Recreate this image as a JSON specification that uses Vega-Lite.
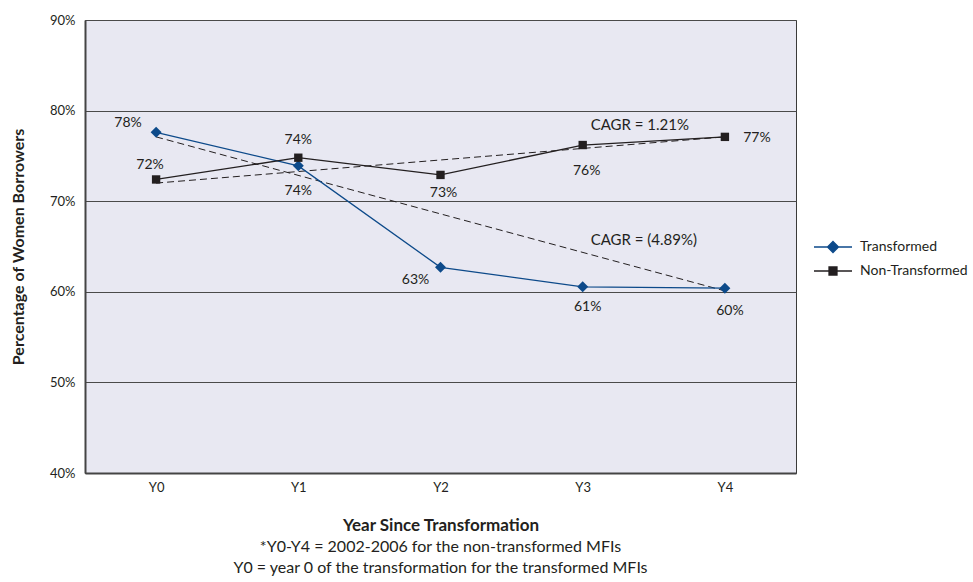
{
  "$schema": "https://vega.github.io/schema/vega-lite/v6.json",
  "autosize": "none",
  "width": 711,
  "height": 453,
  "padding": {"left": 85, "top": 20, "right": 177, "bottom": 109},
  "background": "#ffffff",
  "config": {
    "font": "Lato",
    "view": {"fill": "#e8e8f2", "stroke": "#3a3a3a", "strokeWidth": 1},
    "axis": {"labelFont": "Lato", "titleFont": "Lato", "labelColor": "#231f20", "titleColor": "#231f20"}
  },
  "datasets": {
    "series": [
      {"year": "Y0", "series": "Transformed", "value": 0.776, "label": "78%"},
      {"year": "Y1", "series": "Transformed", "value": 0.739, "label": "74%"},
      {"year": "Y2", "series": "Transformed", "value": 0.627, "label": "63%"},
      {"year": "Y3", "series": "Transformed", "value": 0.6055, "label": "61%"},
      {"year": "Y4", "series": "Transformed", "value": 0.604, "label": "60%"},
      {"year": "Y0", "series": "Non-Transformed", "value": 0.724, "label": "72%"},
      {"year": "Y1", "series": "Non-Transformed", "value": 0.748, "label": "74%"},
      {"year": "Y2", "series": "Non-Transformed", "value": 0.729, "label": "73%"},
      {"year": "Y3", "series": "Non-Transformed", "value": 0.762, "label": "76%"},
      {"year": "Y4", "series": "Non-Transformed", "value": 0.771, "label": "77%"}
    ],
    "trend": [
      {"year": "Y0", "series": "Transformed", "value": 0.771},
      {"year": "Y4", "series": "Transformed", "value": 0.601},
      {"year": "Y0", "series": "Non-Transformed", "value": 0.720},
      {"year": "Y4", "series": "Non-Transformed", "value": 0.771}
    ],
    "notes": [
      {"year": "Y3", "value": 0.784, "text": "CAGR = 1.21%"},
      {"year": "Y3", "value": 0.657, "text": "CAGR = (4.89%)"}
    ]
  },
  "encoding": {
    "x": {
      "field": "year", "type": "ordinal",
      "scale": {"type": "point", "padding": 0.5, "domain": ["Y0", "Y1", "Y2", "Y3", "Y4"]},
      "axis": {
        "title": "Year Since Transformation", "titleFontSize": 17, "titleFontWeight": "bold", "titlePadding": 23,
        "labelAngle": 0, "labelFontSize": 13, "labelPadding": 8, "ticks": false,
        "domainColor": "#444444", "domainWidth": 2, "grid": false
      }
    },
    "y": {
      "field": "value", "type": "quantitative",
      "scale": {"domain": [0.4, 0.9], "nice": false, "zero": false},
      "axis": {
        "title": "Percentage of Women Borrowers", "titleFontSize": 16, "titleFontWeight": "bold", "titlePadding": 23,
        "format": ".0%", "values": [0.4, 0.5, 0.6, 0.7, 0.8, 0.9], "labelFontSize": 13, "labelPadding": 10, "ticks": false,
        "domainColor": "#444444", "domainWidth": 2,
        "grid": true, "gridColor": "#4a4a4a", "gridOpacity": 1, "gridWidth": 1
      }
    }
  },
  "layer": [
    {
      "data": {"name": "trend"},
      "mark": {"type": "line", "strokeDash": [7, 4], "strokeWidth": 1, "color": "#231f20"},
      "encoding": {"detail": {"field": "series"}}
    },
    {
      "data": {"name": "series"},
      "mark": {"type": "line", "strokeWidth": 1.3},
      "encoding": {
        "color": {
          "field": "series", "type": "nominal",
          "scale": {"domain": ["Transformed", "Non-Transformed"], "range": ["#0d4a8a", "#231f20"]},
          "legend": {
            "title": null, "orient": "none", "legendX": 728, "legendY": 216, "padding": 0,
            "symbolSize": 1444, "symbolStrokeWidth": 1.3, "clipHeight": 22, "rowPadding": 2,
            "labelFontSize": 14, "labelOffset": 7, "labelColor": "#231f20", "labelFont": "Lato", "labelLimit": 0,
            "encode": {
              "symbols": {
                "update": {
                  "shape": {"signal": "datum.value == 'Transformed' ? 'M-1,0H1M0,-0.29L0.29,0L0,0.29L-0.29,0Z' : 'M-1,0H1M-0.21,-0.21H0.21V0.21H-0.21Z'"},
                  "fill": {"signal": "datum.value == 'Transformed' ? '#0d4a8a' : '#231f20'"},
                  "stroke": {"signal": "datum.value == 'Transformed' ? '#0d4a8a' : '#231f20'"},
                  "fillOpacity": {"value": 1},
                  "strokeOpacity": {"value": 1}
                }
              }
            }
          }
        }
      }
    },
    {
      "data": {"name": "series"},
      "mark": {"type": "point", "filled": true, "opacity": 1},
      "encoding": {
        "color": {"field": "series", "type": "nominal", "legend": null},
        "shape": {"condition": {"test": "datum.series == 'Transformed'", "value": "diamond"}, "value": "square"},
        "size": {"condition": {"test": "datum.series == 'Transformed'", "value": 121}, "value": 70}
      }
    },
    {"data": {"name": "series"}, "transform": [{"filter": "datum.series == 'Transformed' && datum.year == 'Y0'"}],
     "mark": {"type": "text", "dx": -28, "dy": -9, "fontSize": 14, "color": "#231f20"}, "encoding": {"text": {"field": "label"}}},
    {"data": {"name": "series"}, "transform": [{"filter": "datum.series == 'Non-Transformed' && datum.year == 'Y0'"}],
     "mark": {"type": "text", "dx": -6, "dy": -14, "fontSize": 14, "color": "#231f20"}, "encoding": {"text": {"field": "label"}}},
    {"data": {"name": "series"}, "transform": [{"filter": "datum.series == 'Non-Transformed' && datum.year == 'Y1'"}],
     "mark": {"type": "text", "dx": 0, "dy": -18, "fontSize": 14, "color": "#231f20"}, "encoding": {"text": {"field": "label"}}},
    {"data": {"name": "series"}, "transform": [{"filter": "datum.series == 'Transformed' && datum.year == 'Y1'"}],
     "mark": {"type": "text", "dx": 0, "dy": 25, "fontSize": 14, "color": "#231f20"}, "encoding": {"text": {"field": "label"}}},
    {"data": {"name": "series"}, "transform": [{"filter": "datum.series == 'Non-Transformed' && datum.year == 'Y2'"}],
     "mark": {"type": "text", "dx": 3, "dy": 18, "fontSize": 14, "color": "#231f20"}, "encoding": {"text": {"field": "label"}}},
    {"data": {"name": "series"}, "transform": [{"filter": "datum.series == 'Transformed' && datum.year == 'Y2'"}],
     "mark": {"type": "text", "dx": -25, "dy": 13, "fontSize": 14, "color": "#231f20"}, "encoding": {"text": {"field": "label"}}},
    {"data": {"name": "series"}, "transform": [{"filter": "datum.series == 'Non-Transformed' && datum.year == 'Y3'"}],
     "mark": {"type": "text", "dx": 4, "dy": 26, "fontSize": 14, "color": "#231f20"}, "encoding": {"text": {"field": "label"}}},
    {"data": {"name": "series"}, "transform": [{"filter": "datum.series == 'Transformed' && datum.year == 'Y3'"}],
     "mark": {"type": "text", "dx": 5, "dy": 20, "fontSize": 14, "color": "#231f20"}, "encoding": {"text": {"field": "label"}}},
    {"data": {"name": "series"}, "transform": [{"filter": "datum.series == 'Non-Transformed' && datum.year == 'Y4'"}],
     "mark": {"type": "text", "dx": 32, "dy": 1, "fontSize": 14, "color": "#231f20"}, "encoding": {"text": {"field": "label"}}},
    {"data": {"name": "series"}, "transform": [{"filter": "datum.series == 'Transformed' && datum.year == 'Y4'"}],
     "mark": {"type": "text", "dx": 5, "dy": 23, "fontSize": 14, "color": "#231f20"}, "encoding": {"text": {"field": "label"}}},
    {"data": {"name": "notes"},
     "mark": {"type": "text", "align": "left", "dx": 8, "fontSize": 15, "color": "#231f20"},
     "encoding": {"text": {"field": "text"}}}
  ],
  "title": {
    "text": ["*Y0-Y4 = 2002-2006 for the non-transformed MFIs", "Y0 = year 0 of the transformation for the transformed MFIs"],
    "orient": "bottom", "anchor": "middle", "frame": "group",
    "font": "Lato", "fontSize": 16, "fontWeight": "normal", "color": "#231f20", "lineHeight": 21, "offset": 6
  }
}
